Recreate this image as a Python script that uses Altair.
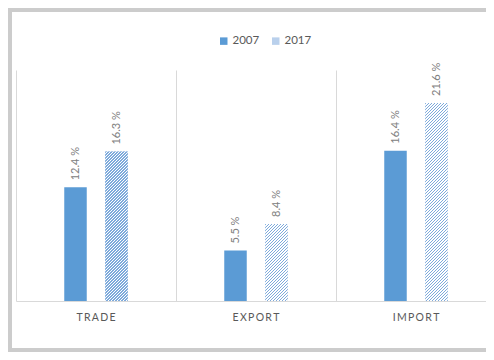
import altair as alt
import pandas as pd

categories = ["TRADE", "EXPORT", "IMPORT"]
years = ["2007", "2017"]
values_2007 = [12.4, 5.5, 16.4]
values_2017 = [16.3, 8.4, 21.6]

rows = []
for c, a, b in zip(categories, values_2007, values_2017):
    rows.append({"cat": c, "year": "2007", "value": a, "label": f"{a} %"})
    rows.append({"cat": c, "year": "2017", "value": b, "label": f"{b} %"})
df = pd.DataFrame(rows)

PLOT_W = 480
PLOT_H = 231
Y_MAX = 25.2
STEP = 41.0
BAR_W = 22.5
OFF_PI = 1 - BAR_W / STEP
BLUE = "#5b9bd5"
GREY_TXT = "#808080"
FONT = "Lato"

band = PLOT_W / len(categories)
half = STEP * (2 - OFF_PI) / 2
off_range = [band / 2 - half, band / 2 + half]


def hatch(value, period=3.0, duty=0.45, color="#7eaadb"):
    h = value * PLOT_H / Y_MAX
    w = BAR_W
    r = h / w
    a = (1 + r) / (1 + r * r)
    total = w + h
    P = period / total
    stops = []
    k = 0
    while k * P < 1:
        s = k * P
        stops.append({"offset": min(s, 1), "color": color})
        stops.append({"offset": min(s + P * duty, 1), "color": color})
        stops.append({"offset": min(s + P * duty, 1), "color": "#ffffff"})
        stops.append({"offset": min(s + P, 1), "color": "#ffffff"})
        k += 1
    return {"gradient": "linear", "x1": 0, "y1": 0, "x2": a, "y2": a * r, "stops": stops}


x_enc = alt.X(
    "cat:N",
    sort=categories,
    scale=alt.Scale(paddingInner=0, paddingOuter=0),
    axis=alt.Axis(
        title=None,
        bandPosition=0,
        grid=True,
        gridColor="#d9d9d9",
        gridWidth=1,
        domainColor="#d9d9d9",
        ticks=False,
        labelAngle=0,
        labelFont=FONT,
        labelFontSize=10.5,
        labelColor="#595959",
        labelPadding=11,
        labelBaseline="top",
        labelExpr="join(split(datum.label, ''), '\u2009')",
    ),
)
xo_enc = alt.XOffset(
    "year:N", sort=years,
    scale=alt.Scale(range=off_range, paddingInner=OFF_PI, paddingOuter=0),
)
y_enc = alt.Y("value:Q", scale=alt.Scale(domain=[0, Y_MAX]), axis=None)

base = alt.Chart(df).encode(x=x_enc, xOffset=xo_enc, y=y_enc)

bars = base.mark_bar().encode(
    color=alt.Color(
        "year:N",
        scale=alt.Scale(domain=years, range=[BLUE, "#b9d0ec"]),
        legend=alt.Legend(
            title=None,
            orient="none",
            legendX=202,
            legendY=-35,
            direction="horizontal",
            symbolType="square",
            symbolSize=56,
            symbolStrokeWidth=0,
            labelFont=FONT,
            labelFontSize=11.5,
            labelColor="#595959",
            labelOffset=3,
            columnPadding=10,
            padding=0,
        ),
    )
)

hatch_layers = []
for c, v in zip(categories, values_2017):
    hatch_layers.append(
        base.mark_bar(fill=hatch(v)).transform_filter(
            f"datum.cat == '{c}' && datum.year == '2017'"
        )
    )

labels = base.mark_text(
    angle=270, align="left", baseline="middle", dx=7,
    font=FONT, fontSize=11, color=GREY_TXT,
).encode(text="label:N")

border = alt.Chart(pd.DataFrame({"a": [0]})).mark_rect(
    fillOpacity=0, stroke="#cccccc", strokeWidth=4
).encode(
    x=alt.value(-6), x2=alt.value(520), y=alt.value(-60), y2=alt.value(280)
)

chart = alt.layer(border, bars, *hatch_layers, labels).properties(
    width=PLOT_W,
    height=PLOT_H,
    autosize=alt.AutoSizeParams(type="none"),
    padding={"left": 8, "top": 62, "right": -10, "bottom": 51},
    background="white",
).configure_view(stroke=None)

chart.save("out.html", embed_options={"renderer": "svg", "actions": False})
